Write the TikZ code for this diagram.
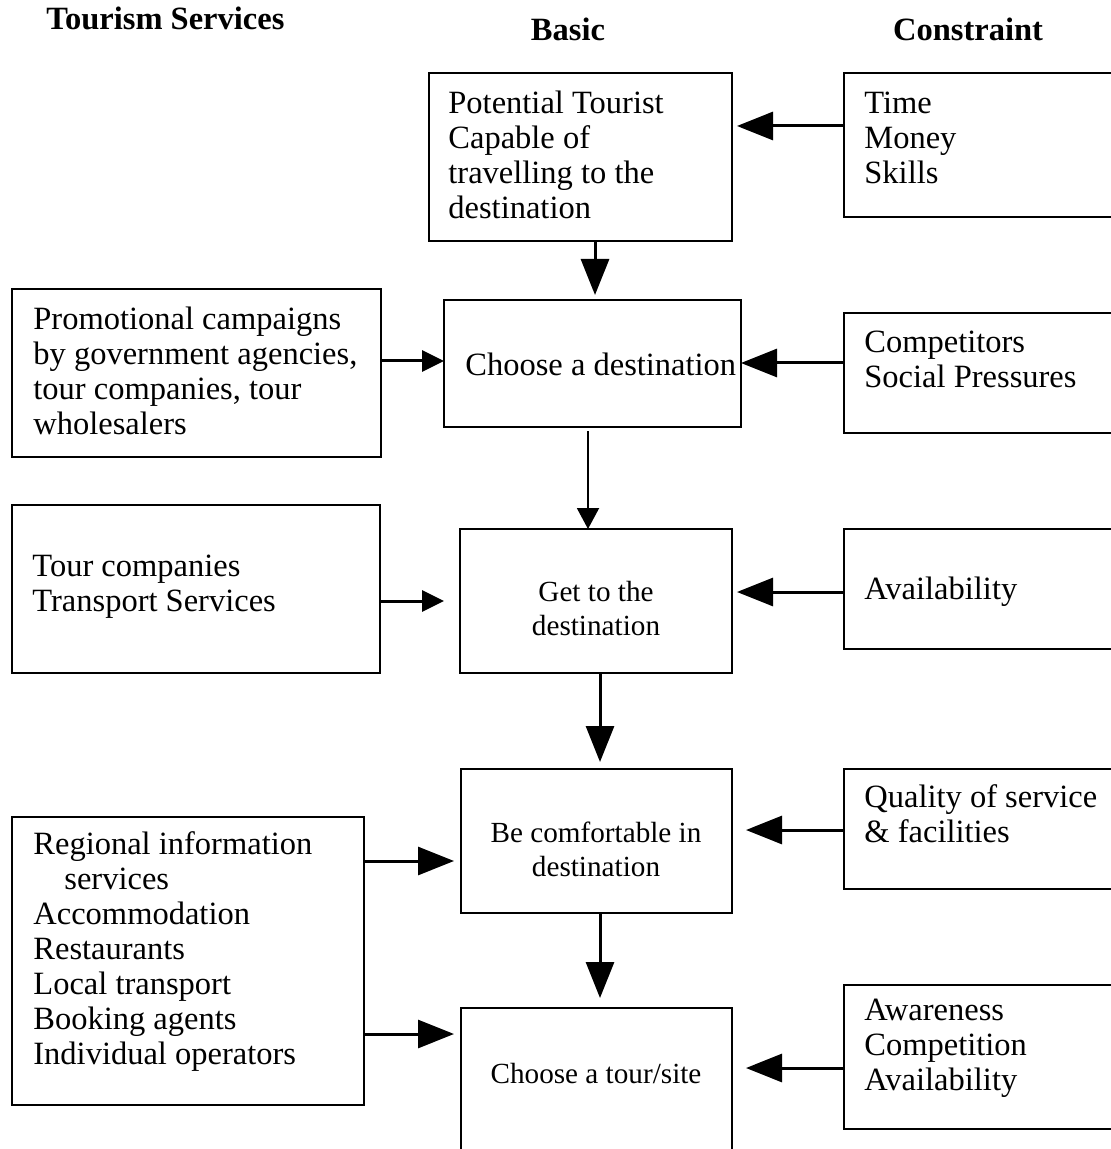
\documentclass[tikz,border=0pt]{standalone}
\usepackage{fontspec}
\setmainfont{Liberation Serif}
\usetikzlibrary{arrows.meta}

\tikzset{
  box/.style={draw, line width=1.2pt, inner sep=0pt, outer sep=0pt},
  txt/.style={inner sep=0pt, anchor=west, align=left, font=\fontsize{16.25}{17.5}\selectfont},
  ctxt/.style={inner sep=0pt, align=center, font=\fontsize{14.6}{17}\selectfont},
  head/.style={inner sep=0pt, font=\fontsize{16.25}{18}\selectfont\bfseries},
  bigarrow/.style={line width=1.5pt, -{Triangle[length=18pt,width=14pt]}},
  smallarrow/.style={line width=1.5pt, -{Triangle[length=11pt,width=10.5pt]}},
  slimarrow/.style={line width=1pt, -{Triangle[length=10.5pt,width=11pt]}},
}

\begin{document}
\begin{tikzpicture}[x=0.5pt, y=-0.5pt]
  \useasboundingbox (0,0) rectangle (1111,1149);

  \node[head, anchor=base west] (hserv) at (46,30) {Tourism Services};
  \node[head, anchor=base] (hbasic) at (568,41) {Basic};
  \node[head, anchor=base] (hcons) at (968,41) {Constraint};

  \node[box, minimum width=151.5pt, minimum height=84pt] (b1) at (580.5,157) {};
  \node[box, minimum width=148.5pt, minimum height=63.5pt] (b2) at (592.5,363.5) {};
  \node[box, minimum width=136pt, minimum height=72pt] (b3) at (596,601) {};
  \node[box, minimum width=135.5pt, minimum height=72pt] (b4) at (596.5,841) {};
  \node[box, minimum width=135.5pt, minimum height=81pt] (b5) at (596.5,1089) {};

  \node[box, minimum width=184.5pt, minimum height=84pt] (s1) at (196.5,373) {};
  \node[box, minimum width=184pt, minimum height=84pt] (s2) at (196,589) {};
  \node[box, minimum width=176pt, minimum height=144pt] (s3) at (188,961) {};

  \node[box, minimum width=143pt, minimum height=72pt] (c1) at (987,145) {};
  \node[box, minimum width=143pt, minimum height=60pt] (c2) at (987,373) {};
  \node[box, minimum width=143pt, minimum height=60pt] (c3) at (987,589) {};
  \node[box, minimum width=143pt, minimum height=60pt] (c4) at (987,829) {};
  \node[box, minimum width=143pt, minimum height=72pt] (c5) at (987,1057) {};

  \node[txt] (tb1) at (448,154.5) {Potential Tourist\\Capable of\\travelling to the\\destination};
  \node[txt] (tb2) at (465,364) {Choose a destination};
  \node[ctxt] (tb3) at (596,608.5) {Get to the\\destination};
  \node[ctxt] (tb4) at (596,849) {Be comfortable in\\destination};
  \node[ctxt] (tb5) at (596,1073) {Choose a tour/site};

  \node[txt] (ts1) at (33,370.5) {Promotional campaigns\\by government agencies,\\tour companies, tour\\wholesalers};
  \node[txt] (ts2) at (32,587) {Tour companies\\Transport Services};
  \node[txt] (ts3) at (33,952) {Regional information\\\hspace*{15.5pt}services\\Accommodation\\Restaurants\\Local transport\\Booking agents\\Individual operators};

  \node[txt] (tc1) at (864,137.5) {Time\\Money\\Skills};
  \node[txt] (tc2) at (864,359.5) {Competitors\\Social Pressures};
  \node[txt] (tc3) at (864,592) {Availability};
  \node[txt] (tc4) at (864,814) {Quality of service\\\& facilities};
  \node[txt] (tc5) at (864,1048) {Awareness\\Competition\\Availability};

  \draw[bigarrow, shorten >=2.5pt] (c1.west |- 0,126) -- (b1.east |- 0,126);
  \draw[bigarrow, shorten >=2.5pt] (b1.south -| 595,0) -- (b2.north -| 595,0);
  \draw[smallarrow] (s1.east |- 0,361) -- (b2.west |- 0,361);
  \draw[bigarrow] (c2.west |- 0,363) -- (b2.east |- 0,363);
  \draw[slimarrow, shorten <=2pt] (b2.south -| 588,0) -- (b3.north -| 588,0);
  \draw[smallarrow, shorten >=8pt] (s2.east |- 0,601) -- (b3.west |- 0,601);
  \draw[bigarrow, shorten >=2.5pt] (c3.west |- 0,592) -- (b3.east |- 0,592);
  \draw[bigarrow, shorten >=3.5pt] (b3.south -| 600,0) -- (b4.north -| 600,0);
  \draw[bigarrow, shorten >=3.5pt] (s3.east |- 0,861) -- (b4.west |- 0,861);
  \draw[bigarrow, shorten >=7pt] (c4.west |- 0,830) -- (b4.east |- 0,830);
  \draw[bigarrow, shorten >=3.5pt] (s3.east |- 0,1034) -- (b5.west |- 0,1034);
  \draw[bigarrow, shorten >=5pt] (b4.south -| 600,0) -- (b5.north -| 600,0);
  \draw[bigarrow, shorten >=7pt] (c5.west |- 0,1068) -- (b5.east |- 0,1068);
\end{tikzpicture}
\end{document}
